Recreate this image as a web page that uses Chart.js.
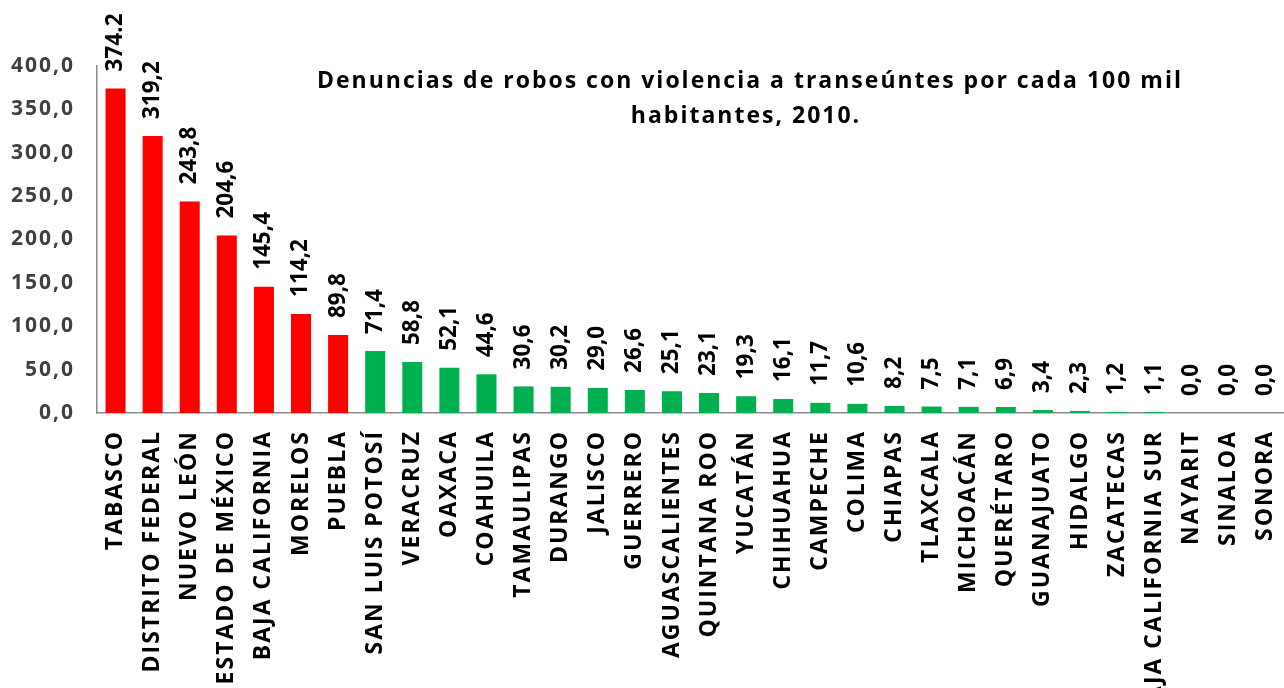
<!DOCTYPE html>
<html>
<head>
<meta charset="utf-8">
<script src="https://cdn.jsdelivr.net/npm/chart.js@4.4.0/dist/chart.umd.min.js"></script>
<style>
html, body { margin: 0; padding: 0; background: #fff; }
#wrap { width: 1284px; height: 688px; }
</style>
</head>
<body>
<div id="wrap"><canvas id="robos"></canvas></div>
<script>
var estados = ['TABASCO', 'DISTRITO FEDERAL', 'NUEVO LEÓN', 'ESTADO DE MÉXICO', 'BAJA CALIFORNIA', 'MORELOS',
	'PUEBLA', 'SAN LUIS POTOSÍ', 'VERACRUZ', 'OAXACA', 'COAHUILA', 'TAMAULIPAS', 'DURANGO', 'JALISCO',
	'GUERRERO', 'AGUASCALIENTES', 'QUINTANA ROO', 'YUCATÁN', 'CHIHUAHUA', 'CAMPECHE', 'COLIMA', 'CHIAPAS',
	'TLAXCALA', 'MICHOACÁN', 'QUERÉTARO', 'GUANAJUATO', 'HIDALGO', 'ZACATECAS', 'BAJA CALIFORNIA SUR',
	'NAYARIT', 'SINALOA', 'SONORA'];
var tasas = [374.2, 319.2, 243.8, 204.6, 145.4, 114.2, 89.8, 71.4, 58.8, 52.1, 44.6, 30.6, 30.2, 29.0,
	26.6, 25.1, 23.1, 19.3, 16.1, 11.7, 10.6, 8.2, 7.5, 7.1, 6.9, 3.4, 2.3, 1.2, 1.1, 0.0, 0.0, 0.0];
var etiquetas = ['374.2', '319,2', '243,8', '204,6', '145,4', '114,2', '89,8', '71,4', '58,8', '52,1', '44,6',
	'30,6', '30,2', '29,0', '26,6', '25,1', '23,1', '19,3', '16,1', '11,7', '10,6', '8,2', '7,5', '7,1',
	'6,9', '3,4', '2,3', '1,2', '1,1', '0,0', '0,0', '0,0'];
var enRojo = 7; // los primeros estados van en rojo
var titulo = ['Denuncias de robos con violencia a transeúntes por cada 100 mil', 'habitantes, 2010.'];

var fuente = '"Open Sans", "Liberation Sans", sans-serif';
var colores = [];
for (var i in tasas) {
	colores.push(i < enRojo ? '#FF0000' : '#00B050');
}

// letras un poco separadas como en el original, etiquetas de valor giradas y el titulo
var textos = {
	id: 'textos',
	beforeDraw: function(chart) {
		chart.ctx.letterSpacing = '2px';
	},
	afterDatasetsDraw: function(chart) {
		var ctx = chart.ctx;
		var meta = chart.getDatasetMeta(0);
		ctx.letterSpacing = '0px';
		ctx.fillStyle = '#000';
		ctx.font = 'bold 22.5px ' + fuente;
		ctx.textAlign = 'left';
		ctx.textBaseline = 'middle';
		meta.data.forEach(function(bar, i) {
			ctx.save();
			ctx.translate(bar.x, bar.y - 17);
			ctx.rotate(-Math.PI / 2);
			ctx.fillText(etiquetas[i], 0, 0);
			ctx.restore();
		});
		ctx.letterSpacing = '2px';
		ctx.font = 'bold 23px ' + fuente;
		ctx.textAlign = 'center';
		ctx.fillText(titulo[0], 750, 81);
		ctx.fillText(titulo[1], 746, 116);
	},
	afterDraw: function(chart) {
		chart.ctx.letterSpacing = '0px';
	}
};

var grafica = new Chart(document.getElementById('robos'), {
	type: 'bar',
	data: {
		labels: estados,
		datasets: [{
			data: tasas,
			backgroundColor: colores,
			barPercentage: 0.9,
			categoryPercentage: 0.6
		}]
	},
	options: {
		responsive: true,
		maintainAspectRatio: false,
		animation: false,
		layout: { padding: { top: 66, left: 10, right: 0, bottom: 0 } },
		plugins: {
			legend: { display: false },
			tooltip: { enabled: false }
		},
		scales: {
			x: {
				grid: { display: false, drawTicks: false },
				border: { color: '#8c8c8c', width: 1.5 },
				ticks: {
					autoSkip: false,
					maxRotation: 90,
					minRotation: 90,
					padding: 17,
					color: '#000',
					font: { family: fuente, weight: 'bold', size: 23 }
				},
				afterFit: function(s) {
					s.height = 275;
					s.paddingLeft = 0;
					s.paddingRight = 0;
				}
			},
			y: {
				min: 0,
				max: 400,
				grid: { display: false, drawTicks: false },
				border: { color: '#8c8c8c', width: 1.5 },
				ticks: {
					stepSize: 50,
					padding: 22,
					color: '#404040',
					font: { family: fuente, weight: 'bold', size: 21 },
					callback: function(v) { return v.toFixed(1).replace('.', ','); }
				},
				afterFit: function(s) { s.width = 87; }
			}
		}
	},
	plugins: [textos]
});
</script>
</body>
</html>
